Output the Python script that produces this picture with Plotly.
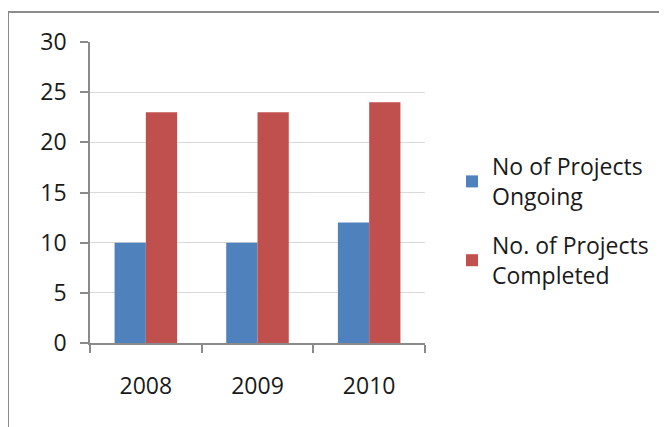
import plotly.graph_objects as go

years = ["2008", "2009", "2010"]
ongoing = [10, 10, 12]
completed = [23, 23, 24]
series_names = ["No of Projects<br>Ongoing", "No. of Projects<br>Completed"]
y_ticks = [0, 5, 10, 15, 20, 25, 30]

W, H = 667, 427
# page is drawn with an 8px body offset; plot area lands at 90..425 x 42..343 on screen
L, R, T, B = 82, 417, 34, 335

fig = go.Figure()
fig.add_trace(go.Bar(x=years, y=ongoing, name=series_names[0], legendgroup="a",
                     marker_color="#4F81BD", marker_line_width=0))
fig.add_trace(go.Bar(x=years, y=completed, name=series_names[1], legendgroup="b",
                     marker_color="#C0504D", marker_line_width=0))

def px_to_paper_x(px):
    return (px - L) / (R - L)

def px_to_paper_y(py):
    return (B - py) / (B - T)

fig.update_layout(
    width=W, height=H,
    margin=dict(l=L, r=W - R, t=T, b=H - B, pad=0),
    paper_bgcolor="white", plot_bgcolor="white",
    font=dict(family="Open Sans", size=23, color="#1a1a1a"),
    barmode="group", bargap=0.44, bargroupgap=0,
    showlegend=True,
    legend=dict(x=px_to_paper_x(444), y=px_to_paper_y(213), xanchor="left", yanchor="middle",
                font=dict(size=23, family="Open Sans", color="#1a1a1a"),
                tracegroupgap=16, itemsizing="constant", bgcolor="rgba(0,0,0,0)"),
    xaxis=dict(type="category", showline=True, linecolor="#8a8a8a", linewidth=1.5,
               ticks="outside", tickson="boundaries", ticklen=8, tickcolor="#8a8a8a",
               tickwidth=1.5, showgrid=False, ticklabelstandoff=22,
               tickfont=dict(size=23, family="Open Sans", color="#1a1a1a")),
    yaxis=dict(range=[0, 30], tickvals=y_ticks, showline=True, linecolor="#8a8a8a", linewidth=1.5,
               ticks="outside", ticklen=8, tickcolor="#8a8a8a", tickwidth=1.5,
               showgrid=True, gridcolor="#d9d9d9", gridwidth=1, zeroline=False,
               ticklabelstandoff=9,
               tickfont=dict(size=23, family="Open Sans", color="#1a1a1a")),
    shapes=[dict(type="rect", xref="paper", yref="paper",
                 x0=px_to_paper_x(0), y0=px_to_paper_y(470),
                 x1=px_to_paper_x(720), y1=px_to_paper_y(4),
                 line=dict(color="#8c8c8c", width=2), layer="below")],
)

fig.write_html("out.html")
